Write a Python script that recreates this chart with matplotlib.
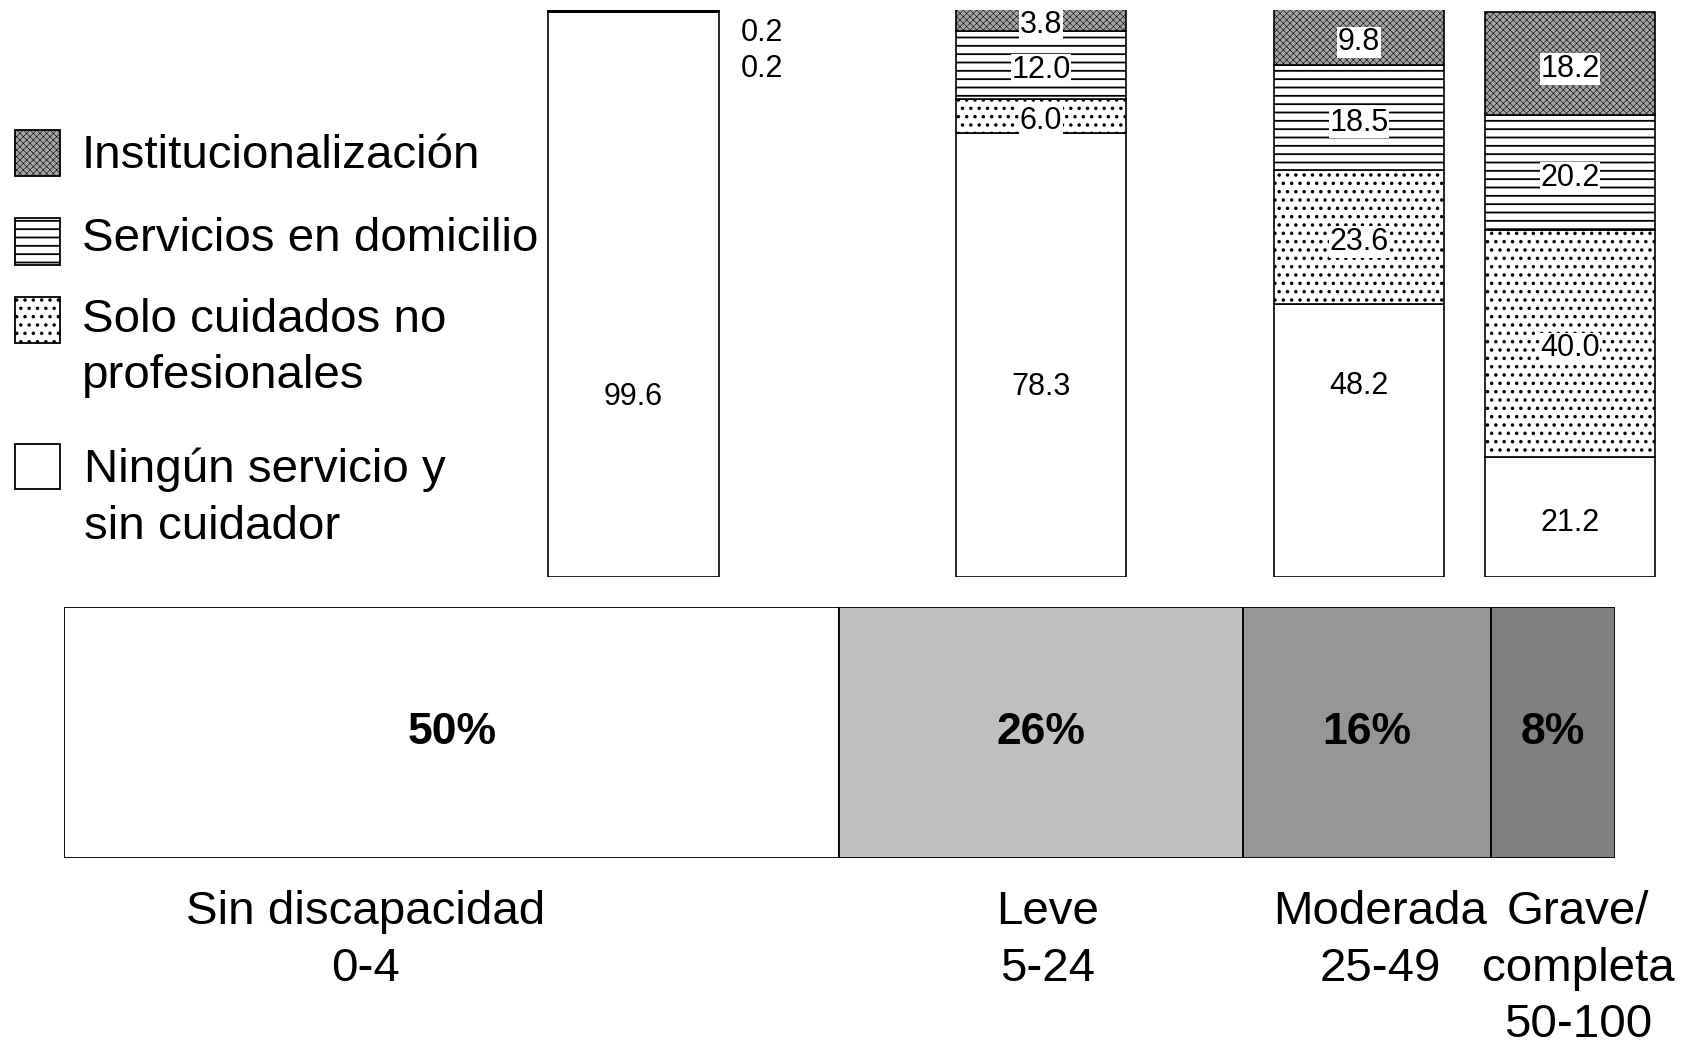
import matplotlib
matplotlib.use("Agg")
import matplotlib.pyplot as plt
from matplotlib.patches import Rectangle

plt.rcParams["font.family"] = ["Liberation Sans", "DejaVu Sans"]
plt.rcParams["hatch.linewidth"] = 1.3

# ---------------------------------------------------------------
# datos
# ---------------------------------------------------------------
grupos = ["Sin discapacidad\n0-4", "Leve\n5-24", "Moderada\n25-49",
          "Grave/\ncompleta\n50-100"]
poblacion = [50, 26, 16, 8]
colores_pob = ["#ffffff", "#c0c0c0", "#969696", "#808080"]

categorias = ["Institucionalización", "Servicios en domicilio",
              "Solo cuidados no\nprofesionales",
              "Ningún servicio y\nsin cuidador"]
institucion = [0.2, 3.8, 9.8, 18.2]
servicios = [0.2, 12.0, 18.5, 20.2]
solo_cuidados = [0.0, 6.0, 23.6, 40.0]
ninguno = [99.6, 78.3, 48.2, 21.2]

# ---------------------------------------------------------------
# estilo / posiciones
# ---------------------------------------------------------------
W, H = 1683, 1044
estilos = {
    "inst": dict(facecolor="#a4a4a4", hatch="xxxxx"),
    "serv": dict(facecolor="white", hatch="--"),
    "solo": dict(facecolor="white", hatch=".."),
    "ning": dict(facecolor="white", hatch=None),
}
hatch_lw = {"inst": 0.4, "serv": 1.3, "solo": 1.3, "ning": 1.3}
bar_x = [36.7, 63.0, 83.5, 97.1]      # centros, en % del eje inferior
bar_w = 11.0
ning_label_y = [31.7, 33.5, 33.7, 9.5]
grupo_x = [366, 1048, 1380, 1578]     # px


def fx(x):
    return x / W


def fy(y):
    return 1 - y / H


fig = plt.figure(figsize=(W / 100, H / 100), dpi=100)

# eje inferior: distribucion de la poblacion
ax_b = fig.add_axes([fx(64), fy(858), (1615 - 64) / W, (858 - 607) / H])
izq = 0
for v, c in zip(poblacion, colores_pob):
    ax_b.barh(0, v, left=izq, height=1, color=c, edgecolor="black",
              linewidth=1.3)
    ax_b.text(izq + v / 2, 0, "%d%%" % v, ha="center", va="center",
              fontsize=32, fontweight="bold")
    izq += v
ax_b.set_xlim(0, 100)
ax_b.set_ylim(-0.5, 0.5)
ax_b.axis("off")

# eje superior: barras apiladas de cuidados
ax_t = fig.add_axes([fx(64), fy(577), (W - 64) / W, (577 - 10) / H])
ax_t.set_xlim(0, (W - 64) / 15.51)
ax_t.set_ylim(0, 100)
ax_t.axis("off")

series = [("ning", ninguno), ("solo", solo_cuidados),
          ("serv", servicios), ("inst", institucion)]
base = [0.0] * len(bar_x)
for clave, vals in series:
    plt.rcParams["hatch.linewidth"] = hatch_lw[clave]
    ax_t.bar(bar_x, vals, width=bar_w, bottom=base, edgecolor="black",
             linewidth=1.2, **estilos[clave])
    for i, v in enumerate(vals):
        if i == 0 and clave != "ning":
            continue
        if clave == "ning":
            ax_t.text(bar_x[i], ning_label_y[i], "%.1f" % v, ha="center",
                      va="center", fontsize=22)
        elif v > 0:
            ax_t.text(bar_x[i], base[i] + v / 2 - 0.9, "%.1f" % v,
                      ha="center", va="center", fontsize=22,
                      bbox=dict(facecolor="white", edgecolor="none", pad=0.5))
    base = [b + v for b, v in zip(base, vals)]

# etiquetas fuera de la primera barra
ax_t.text(45.0, 95.9, "%.1f" % institucion[0], ha="center", va="center",
          fontsize=22)
ax_t.text(45.0, 89.6, "%.1f" % servicios[0], ha="center", va="center",
          fontsize=22)

# leyenda
ley_y = [(130, 176, 156), (218, 265, 239), (297, 343, 348), (444, 489, 498)]
for clave, lab, (y0, y1, yt) in zip(["inst", "serv", "solo", "ning"],
                                    categorias, ley_y):
    plt.rcParams["hatch.linewidth"] = hatch_lw[clave]
    fig.patches.append(Rectangle((fx(15), fy(y1)), 45 / W, (y1 - y0) / H,
                                 transform=fig.transFigure, edgecolor="black",
                                 linewidth=1.3, **estilos[clave]))
    fig.text(fx(82 if clave != "ning" else 84), fy(yt), lab, ha="left",
             va="center", fontsize=34.2, linespacing=1.37)

# grupos de discapacidad
for x, g in zip(grupo_x, grupos):
    fig.text(fx(x), fy(890), g, ha="center", va="top", fontsize=34.2,
             multialignment="center", linespacing=1.37)

fig.savefig("out.png", dpi=100)
